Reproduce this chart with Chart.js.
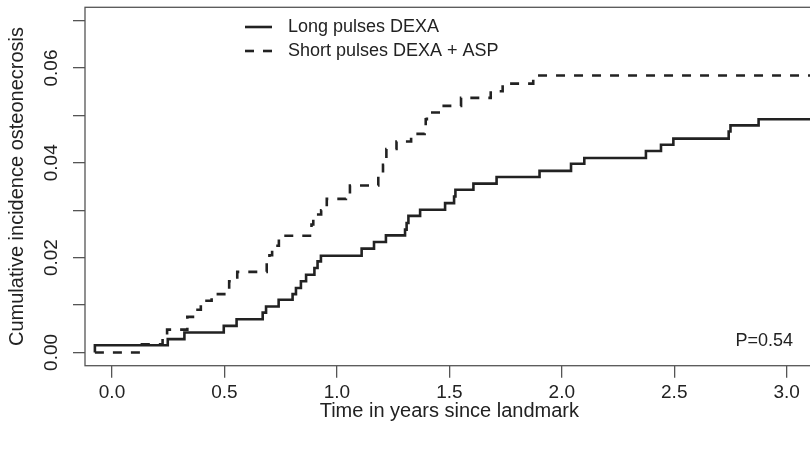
<!DOCTYPE html>
<html>
<head>
<meta charset="utf-8">
<script src="https://cdn.jsdelivr.net/npm/chart.js@4"></script>
<style>
  html, body { margin: 0; padding: 0; background: #fff; overflow: hidden; }
  #wrap { width: 830px; height: 451px; }
</style>
</head>
<body>
<div id="wrap"><canvas id="chart" width="830" height="451"></canvas></div>
<script>
// cumulative incidence step curves
const longTimes = [-0.076, -0.076, 0.248, 0.322, 0.497, 0.554, 0.670, 0.685, 0.741, 0.803, 0.818, 0.840, 0.863, 0.900, 0.914, 0.929, 1.110, 1.165, 1.218, 1.303, 1.310, 1.318, 1.370, 1.481, 1.521, 1.527, 1.607, 1.710, 1.901, 2.041, 2.100, 2.374, 2.441, 2.496, 2.742, 2.750, 2.875, 3.2];
const longValues = [0, 0.0015, 0.0028, 0.0042, 0.0056, 0.0070, 0.0084, 0.0097, 0.0111, 0.0123, 0.0136, 0.0150, 0.0164, 0.0178, 0.0192, 0.0204, 0.0219, 0.0233, 0.0247, 0.0259, 0.0273, 0.0288, 0.0301, 0.0315, 0.0329, 0.0343, 0.0356, 0.0370, 0.0383, 0.0398, 0.0410, 0.0425, 0.0438, 0.0451, 0.0466, 0.0479, 0.0492, 0.0492];

const shortTimes = [-0.076, 0.133, 0.225, 0.245, 0.335, 0.360, 0.395, 0.443, 0.521, 0.557, 0.688, 0.700, 0.712, 0.742, 0.887, 0.895, 0.930, 0.955, 1.040, 1.058, 1.184, 1.205, 1.220, 1.265, 1.330, 1.390, 1.395, 1.400, 1.475, 1.552, 1.684, 1.737, 1.873, 3.2];
const shortValues = [0, 0.0017, 0.0032, 0.0048, 0.0075, 0.0090, 0.0109, 0.0123, 0.0150, 0.0170, 0.0190, 0.0205, 0.0225, 0.0246, 0.0270, 0.0291, 0.0300, 0.0324, 0.0338, 0.0352, 0.0375, 0.0396, 0.0429, 0.0445, 0.0461, 0.0475, 0.0492, 0.0506, 0.0520, 0.0537, 0.0551, 0.0567, 0.0584, 0.0584];

const seriesNames = ["Long pulses DEXA", "Short pulses DEXA + ASP"];

const xTicks = [0.0, 0.5, 1.0, 1.5, 2.0, 2.5, 3.0];
const xTickLabels = ["0.0", "0.5", "1.0", "1.5", "2.0", "2.5", "3.0"];
const yTicks = [0.00, 0.01, 0.02, 0.03, 0.04, 0.05, 0.06, 0.07];
const yTickLabels = ["0.00", "", "0.02", "", "0.04", "", "0.06", ""];

const pValueText = "P=0.54";

const FONT = "'Liberation Sans', Arial, Helvetica, sans-serif";
const INK = "#222";
const AXIS = "#555";

function toPoints(times, values) {
  return times.map((t, i) => ({ x: t, y: values[i] }));
}

// box, legend and p-value, drawn like R's plot() would
const decorations = {
  id: "decorations",
  afterDraw(chart) {
    const { ctx, chartArea } = chart;
    ctx.save();
    ctx.strokeStyle = AXIS;
    ctx.lineWidth = 1.3;
    ctx.strokeRect(chartArea.left, chartArea.top, chartArea.right - chartArea.left, chartArea.bottom - chartArea.top);

    // legend
    const rows = [27, 51];
    ctx.strokeStyle = INK;
    ctx.lineWidth = 2.6;
    ctx.font = "18px " + FONT;
    ctx.fillStyle = INK;
    ctx.textBaseline = "middle";
    ctx.textAlign = "left";
    seriesNames.forEach((name, i) => {
      ctx.setLineDash(i === 0 ? [] : [9, 9]);
      ctx.beginPath();
      ctx.moveTo(245, rows[i]);
      ctx.lineTo(272, rows[i]);
      ctx.stroke();
      ctx.fillText(name, 288, rows[i]);
    });
    ctx.setLineDash([]);

    ctx.textAlign = "right";
    ctx.fillText(pValueText, 793, 341);
    ctx.restore();
  },
};

const ctx = document.getElementById("chart").getContext("2d");

new Chart(ctx, {
  type: "scatter",
  data: {
    datasets: [
      {
        label: seriesNames[0],
        data: toPoints(longTimes, longValues),
        showLine: true,
        stepped: "before", // hold the old value until the event time
        borderColor: INK,
        borderWidth: 2.6,
        pointRadius: 0,
        fill: false,
      },
      {
        label: seriesNames[1],
        data: toPoints(shortTimes, shortValues),
        showLine: true,
        stepped: "before",
        borderColor: INK,
        borderWidth: 2.6,
        borderDash: [9, 9],
        pointRadius: 0,
        fill: false,
      },
    ],
  },
  options: {
    responsive: false,
    animation: false,
    devicePixelRatio: 1,
    layout: {
      padding: { top: 7.3, left: 0, right: 16.3, bottom: 0 },
    },
    plugins: {
      legend: { display: false },
      tooltip: { enabled: false },
    },
    scales: {
      x: {
        type: "linear",
        min: -0.12,
        max: 3.12,
        afterBuildTicks: (scale) => {
          scale.ticks = xTicks.map((v) => ({ value: v }));
        },
        afterFit: (scale) => {
          scale.height = 85.3;
          scale.paddingLeft = 0;
          scale.paddingRight = 0;
        },
        grid: {
          display: true,
          drawOnChartArea: false,
          drawTicks: true,
          tickLength: 12,
          color: AXIS,
          lineWidth: 1.3,
        },
        border: { display: false },
        ticks: {
          autoSkip: false,
          maxRotation: 0,
          padding: 4,
          color: INK,
          font: { family: FONT, size: 19 },
          callback: (value, index) => xTickLabels[index],
        },
        title: {
          display: true,
          text: "Time in years since landmark",
          color: INK,
          font: { family: FONT, size: 20 },
          padding: { top: 0, bottom: 28 },
        },
      },
      y: {
        type: "linear",
        min: -0.0028,
        max: 0.0728,
        afterBuildTicks: (scale) => {
          scale.ticks = yTicks.map((v) => ({ value: v }));
        },
        afterFit: (scale) => {
          scale.width = 85;
          scale.paddingTop = 0;
          scale.paddingBottom = 0;
        },
        grid: {
          display: true,
          drawOnChartArea: false,
          drawTicks: true,
          tickLength: 12,
          color: AXIS,
          lineWidth: 1.3,
        },
        border: { display: false },
        ticks: {
          autoSkip: false,
          minRotation: 90,
          maxRotation: 90,
          crossAlign: "center",
          padding: 3,
          color: INK,
          font: { family: FONT, size: 19 },
          callback: (value, index) => yTickLabels[index],
        },
        title: {
          display: true,
          text: "Cumulative incidence osteonecrosis",
          color: INK,
          font: { family: FONT, size: 20 },
          padding: { top: 5, bottom: 0 },
        },
      },
    },
  },
  plugins: [decorations],
});
</script>
</body>
</html>
